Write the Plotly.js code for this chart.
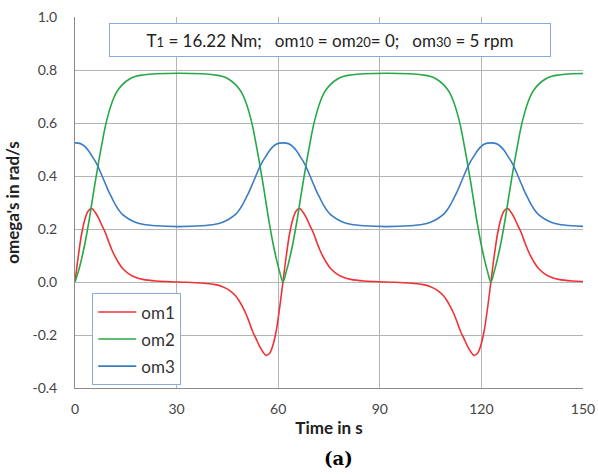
<!DOCTYPE html>
<html>
<head>
<meta charset="utf-8">
<script src="https://cdn.plot.ly/plotly-3.0.1.min.js"></script>
<style>html,body{margin:0;padding:0;background:#fff;}#chart{width:598px;height:474px;}</style>
</head>
<body>
<div id="chart"></div>
<script>
// Time in s (shared by all three series)
var time = [
  0,1,2,3,4,5,6,7,8,9,10,11,12,13,14,16,18,20,24,30.7,37.4,41.4,43.4,45.4,47.4,48.4,49.4,50.4,51.4,52.4,53.4,54.4,55.4,56.4,57.4,58.4,59.4,60.4,
  61.4,62.4,63.4,64.4,65.4,66.4,67.4,68.4,69.4,70.4,71.4,72.4,73.4,74.4,75.4,77.4,79.4,81.4,85.4,92.1,98.8,102.8,104.8,106.8,108.8,109.8,110.8,111.8,112.8,113.8,114.8,115.8,116.8,117.8,118.8,119.8,120.8,121.8,
  122.8,123.8,124.8,125.8,126.8,127.8,128.8,129.8,130.8,131.8,132.8,133.8,134.8,135.8,136.8,138.8,140.8,142.8,146.8,150
];
// om1 in rad/s
var om1 = [
  0,0.10,0.185,0.24,0.27,0.277,0.262,0.24,0.212,0.185,0.15,0.118,0.092,0.07,0.052,0.03,0.017,0.01,0.004,0,-0.004,-0.01,-0.017,-0.03,-0.052,-0.07,-0.092,-0.118,-0.15,-0.185,-0.212,-0.24,-0.262,-0.277,-0.27,-0.24,-0.185,-0.10,
  0,0.10,0.185,0.24,0.27,0.277,0.262,0.24,0.212,0.185,0.15,0.118,0.092,0.07,0.052,0.03,0.017,0.01,0.004,0,-0.004,-0.01,-0.017,-0.03,-0.052,-0.07,-0.092,-0.118,-0.15,-0.185,-0.212,-0.24,-0.262,-0.277,-0.27,-0.24,-0.185,-0.10,
  0,0.10,0.185,0.24,0.27,0.277,0.262,0.24,0.212,0.185,0.15,0.118,0.092,0.07,0.052,0.03,0.017,0.01,0.004,0.002
];
// om2 in rad/s
var om2 = [
  0,0.04,0.09,0.15,0.22,0.30,0.38,0.455,0.525,0.59,0.64,0.68,0.71,0.73,0.745,0.765,0.776,0.781,0.786,0.788,0.786,0.781,0.776,0.765,0.745,0.73,0.71,0.68,0.64,0.59,0.525,0.455,0.38,0.30,0.22,0.15,0.09,0.04,
  0,0.04,0.09,0.15,0.22,0.30,0.38,0.455,0.525,0.59,0.64,0.68,0.71,0.73,0.745,0.765,0.776,0.781,0.786,0.788,0.786,0.781,0.776,0.765,0.745,0.73,0.71,0.68,0.64,0.59,0.525,0.455,0.38,0.30,0.22,0.15,0.09,0.04,
  0,0.04,0.09,0.15,0.22,0.30,0.38,0.455,0.525,0.59,0.64,0.68,0.71,0.73,0.745,0.765,0.776,0.781,0.786,0.787
];
// om3 in rad/s
var om3 = [
  0.525,0.524,0.52,0.51,0.495,0.475,0.455,0.43,0.40,0.37,0.34,0.315,0.29,0.27,0.255,0.237,0.225,0.218,0.212,0.209,0.212,0.218,0.225,0.237,0.255,0.27,0.29,0.315,0.34,0.37,0.40,0.43,0.455,0.475,0.495,0.51,0.52,0.524,
  0.525,0.524,0.52,0.51,0.495,0.475,0.455,0.43,0.40,0.37,0.34,0.315,0.29,0.27,0.255,0.237,0.225,0.218,0.212,0.209,0.212,0.218,0.225,0.237,0.255,0.27,0.29,0.315,0.34,0.37,0.40,0.43,0.455,0.475,0.495,0.51,0.52,0.524,
  0.525,0.524,0.52,0.51,0.495,0.475,0.455,0.43,0.40,0.37,0.34,0.315,0.29,0.27,0.255,0.237,0.225,0.218,0.212,0.21
];
var seriesNames = ['om1','om2','om3'];
var seriesColors = ['#ee3338','#27a846','#3b7cc4'];
var xTicks = [0,30,60,90,120,150];
var yTicks = [-0.4,-0.2,0.0,0.2,0.4,0.6,0.8,1.0];

var ys = [om1, om2, om3];
var traces = ys.map(function(y, i){
  return {x: time, y: y, type:'scatter', mode:'lines', name: seriesNames[i],
    legendgroup: 'g'+i,
    line:{color: seriesColors[i], width:1.6, shape:'spline', smoothing:1}};
});

var font = 'Lato, "Open Sans", sans-serif';
var layout = {
  width:598, height:474,
  margin:{l:75, r:15, t:17, b:86},
  paper_bgcolor:'#fff', plot_bgcolor:'#fff',
  showlegend:true,
  legend:{x:0.034, y:0.255, xanchor:'left', yanchor:'top', bgcolor:'#fff',
    bordercolor:'#8eaadb', borderwidth:1, font:{family:font, size:17, color:'#333'},
    tracegroupgap:2, itemwidth:38},
  xaxis:{range:[0,150], tickvals:xTicks, ticktext:xTicks.map(String),
    showgrid:true, gridcolor:'#b4b4b4', gridwidth:1, zeroline:false,
    showline:true, linecolor:'#8a8a8a', linewidth:1,
    ticks:'', ticklabelstandoff:8,
    tickfont:{family:font, size:14, color:'#444'},
    title:{text:'<b>Time in s</b>', font:{family:font, size:17, color:'#222'}, standoff:6}},
  yaxis:{range:[-0.4,1.0], tickvals:yTicks, ticktext:yTicks.map(function(v){return v.toFixed(1);}),
    showgrid:true, gridcolor:'#b4b4b4', gridwidth:1, zeroline:false,
    showline:true, linecolor:'#8a8a8a', linewidth:1,
    ticks:'', ticklabelstandoff:14,
    tickfont:{family:font, size:14, color:'#444'},
    title:{text:"<b>omega's in rad/s</b>", font:{family:font, size:17, color:'#222'}, standoff:8}},
  annotations:[
    {xref:'paper', yref:'paper', x:0.502, y:0.9386, xanchor:'center', yanchor:'middle',
     showarrow:false, bgcolor:'#fff', bordercolor:'#8eaadb', borderwidth:1, borderpad:4,
     width:432, height:24,
     text:'T<span style="font-size:13px">1</span> = 16.22 Nm;   om<span style="font-size:13px">10</span> = om<span style="font-size:13px">20</span>= 0;   om<span style="font-size:13px">30</span> = 5 rpm',
     font:{family:font, size:17, color:'#222'}},
    {xref:'paper', yref:'paper', x:0.518, y:-0.19, xanchor:'center', yanchor:'middle',
     showarrow:false, text:'<b>(a)</b>',
     font:{family:'DejaVu Serif', size:18, color:'#000'}}
  ]
};
Plotly.newPlot('chart', traces, layout, {displayModeBar:false, staticPlot:true});
</script>
</body>
</html>
